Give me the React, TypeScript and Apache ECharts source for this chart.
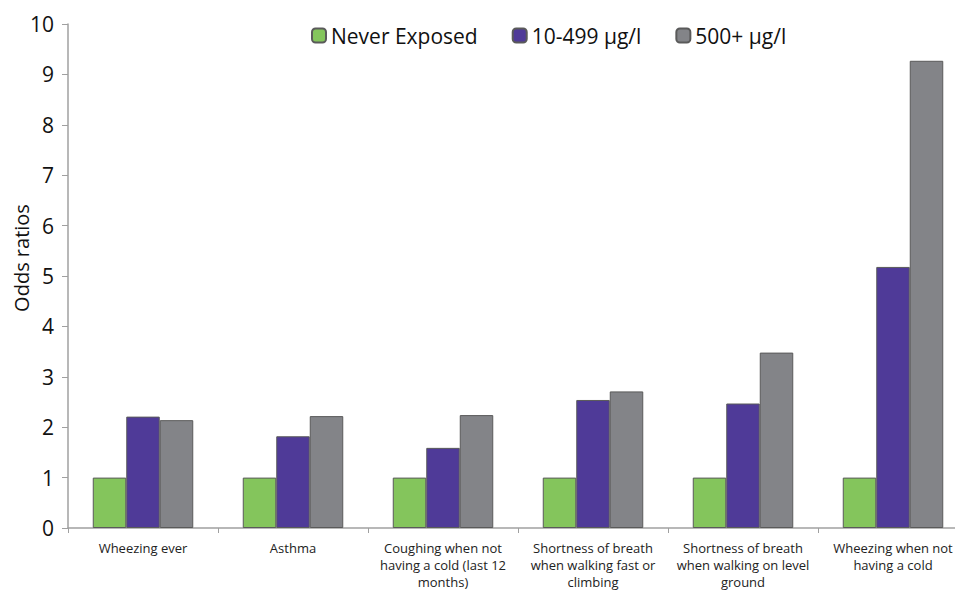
import React, { useEffect, useRef } from "react";
import * as echarts from "echarts";

const categories = [
  "Wheezing ever",
  "Asthma",
  "Coughing when not\nhaving a cold (last 12\nmonths)",
  "Shortness of breath\nwhen walking fast or\nclimbing",
  "Shortness of breath\nwhen walking on level\nground",
  "Wheezing when not\nhaving a cold",
];
const seriesNames = ["Never Exposed", "10-499 \u00b5g/l", "500+ \u00b5g/l"];
const neverExposed = [1, 1, 1, 1, 1, 1];
const low = [2.21, 1.82, 1.59, 2.54, 2.47, 5.18];
const high = [2.14, 2.22, 2.24, 2.71, 3.48, 9.27];
const yTicks = [0, 1, 2, 3, 4, 5, 6, 7, 8, 9, 10];
const yTitle = "Odds ratios";

const colors = ["#84c55c", "#4f3a98", "#838488"];

export default function App() {
  const ref = useRef<HTMLDivElement>(null);
  useEffect(() => {
    if (!ref.current) return;
    const chart = echarts.init(ref.current, undefined, { renderer: "svg" });
    const data = [neverExposed, low, high];
    chart.setOption({
      animation: false,
      textStyle: { fontFamily: "Open Sans" },
      legend: {
        top: 20,
        left: 306,
        itemWidth: 14,
        itemHeight: 14,
        itemGap: 34,
        textStyle: { fontSize: 21, color: "#111", fontFamily: "Open Sans" },
        data: seriesNames,
      },
      graphic: [
        {
          type: "text",
          x: 21,
          y: 258,
          rotation: Math.PI / 2,
          style: {
            text: yTitle,
            fontSize: 20,
            fill: "#111",
            fontFamily: "Open Sans",
            textAlign: "center",
            textVerticalAlign: "middle",
          },
        },
      ],
      grid: { left: 68, right: 0, top: 24, bottom: 62, containLabel: false, outerBoundsMode: "none" },
      xAxis: {
        type: "category",
        data: categories,
        axisLine: { lineStyle: { color: "#a0a0a0", width: 1.5 } },
        axisTick: { show: true, length: 5, interval: 0, lineStyle: { color: "#a0a0a0" } },
        axisLabel: {
          interval: 0,
          fontSize: 13,
          lineHeight: 17,
          color: "#222",
          margin: 11,
          fontFamily: "Open Sans",
        },
      },
      yAxis: {
        type: "value",
        min: yTicks[0],
        max: yTicks[yTicks.length - 1],
        interval: 1,
        splitLine: { show: false },
        axisLine: { show: true, lineStyle: { color: "#a0a0a0", width: 1.5 } },
        axisTick: { show: true, length: 6, lineStyle: { color: "#a0a0a0" } },
        axisLabel: { fontSize: 21, color: "#111", margin: 14, fontFamily: "Open Sans" },
      },
      series: seriesNames.map((name, i) => ({
        name,
        type: "bar",
        data: data[i],
        barGap: "0%",
        barCategoryGap: "33%",
        itemStyle: { color: colors[i], borderColor: "#5a5a5a", borderWidth: 1 },
      })),
    });
    return () => chart.dispose();
  }, []);
  return (
    <div
      style={{
        position: "fixed",
        left: 0,
        top: 0,
        width: 955,
        height: 590,
        overflow: "hidden",
        background: "#fff",
      }}
    >
      <div ref={ref} style={{ width: 968, height: 590 }} />
    </div>
  );
}
